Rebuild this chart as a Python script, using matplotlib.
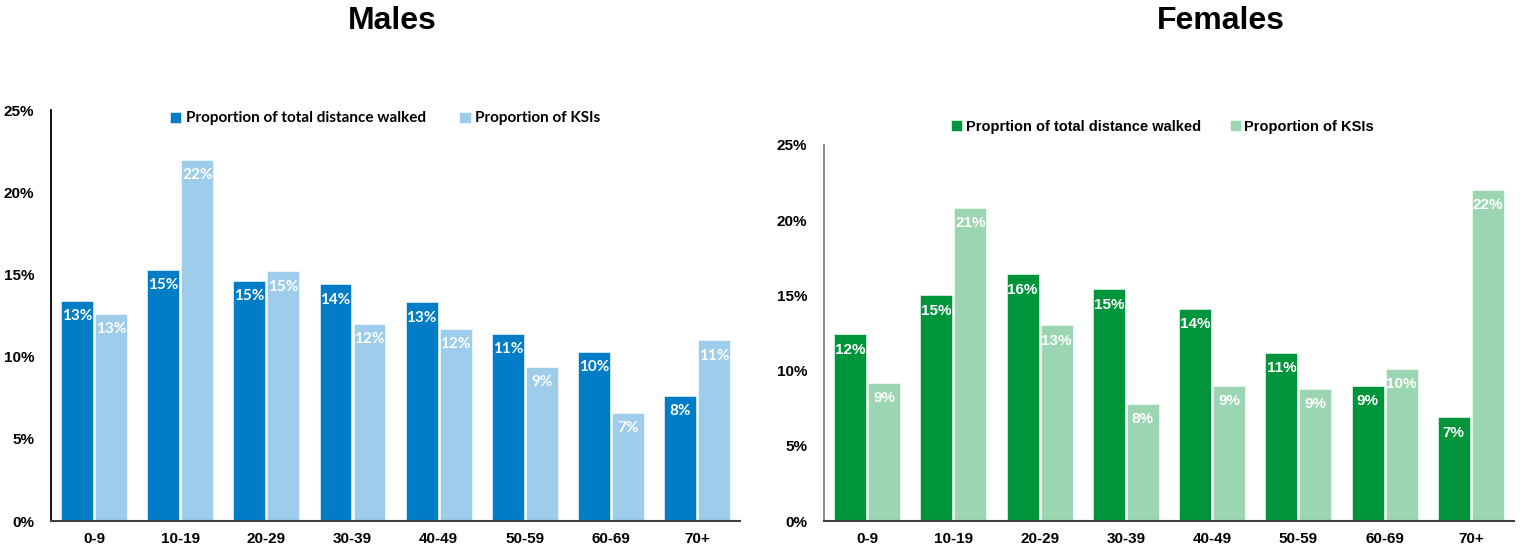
import matplotlib
matplotlib.use("Agg")
import matplotlib.pyplot as plt
from matplotlib.ticker import FuncFormatter

age_groups = ["0-9", "10-19", "20-29", "30-39", "40-49", "50-59", "60-69", "70+"]

# shares in percent, per age group
male_distance = [13.4, 15.3, 14.6, 14.4, 13.3, 11.4, 10.3, 7.6]
male_ksi = [12.6, 22.0, 15.2, 12.0, 11.7, 9.4, 6.6, 11.0]
female_distance = [12.4, 15.0, 16.4, 15.4, 14.1, 11.2, 9.0, 6.9]
female_ksi = [9.2, 20.8, 13.0, 7.8, 9.0, 8.8, 10.1, 22.0]

MALE_DARK, MALE_LIGHT = "#007DC6", "#9DCDEA"
FEMALE_DARK, FEMALE_LIGHT = "#00953A", "#9BD5B1"

plt.rcParams["font.family"] = ["Liberation Sans", "DejaVu Sans"]

fig = plt.figure(figsize=(15.28, 5.47), dpi=100)
ax_m = fig.add_axes([0.0334, 0.0475, 0.451, 0.751])
ax_f = fig.add_axes([0.5393, 0.0475, 0.4515, 0.6875])

width = 0.37
gap = 0.025


def pct(v):
    return f"{int(v + 0.5)}%"


def draw_panel(ax, first, second, names, colors, label_font, spine_color):
    xs = range(len(age_groups))
    left = [x - width / 2 - gap / 2 for x in xs]
    right = [x + width / 2 + gap / 2 for x in xs]
    b1 = ax.bar(left, first, width, color=colors[0], label=names[0],
                edgecolor="white", linewidth=0.4)
    b2 = ax.bar(right, second, width, color=colors[1], label=names[1],
                edgecolor="white", linewidth=0.4)

    for bars, vals in ((b1, first), (b2, second)):
        for bar, v in zip(bars, vals):
            ax.annotate(pct(v),
                        xy=(bar.get_x() + bar.get_width() / 2, v),
                        xytext=(0, -6), textcoords="offset points",
                        ha="center", va="top", color="white",
                        fontsize=11, fontweight="bold", family=label_font)

    ax.set_xlim(-0.5, len(age_groups) - 0.5)
    ax.set_ylim(0, 25)
    ax.set_yticks([0, 5, 10, 15, 20, 25])
    ax.yaxis.set_major_formatter(FuncFormatter(lambda v, _: f"{v:.0f}%"))
    ax.set_xticks(list(xs))
    ax.set_xticklabels(age_groups)
    ax.tick_params(axis="both", length=0, labelsize=11)
    ax.tick_params(axis="y", pad=12)
    ax.tick_params(axis="x", pad=8)
    for lbl in ax.get_xticklabels() + ax.get_yticklabels():
        lbl.set_fontweight("bold")

    for side in ("top", "right"):
        ax.spines[side].set_visible(False)
    ax.spines["left"].set_color(spine_color)
    ax.spines["left"].set_linewidth(1.3)
    ax.spines["bottom"].set_color("#404040")
    ax.spines["bottom"].set_linewidth(1.5)


draw_panel(ax_m, male_distance, male_ksi,
           ["Proportion of total distance walked", "Proportion of KSIs"],
           (MALE_DARK, MALE_LIGHT), ["Lato", "DejaVu Sans"], "black")
draw_panel(ax_f, female_distance, female_ksi,
           ["Proprtion of total distance walked", "Proportion of KSIs"],
           (FEMALE_DARK, FEMALE_LIGHT), ["Liberation Sans", "DejaVu Sans"], "#808080")

leg_m = ax_m.legend(loc="center left", bbox_to_anchor=(0.152, 0.98), ncol=2,
                    frameon=False, handlelength=0.75, handleheight=0.75,
                    handletextpad=0.3, columnspacing=2.2,
                    prop={"family": ["Lato", "DejaVu Sans"], "weight": "bold", "size": 11})
leg_f = ax_f.legend(loc="center left", bbox_to_anchor=(0.165, 1.048), ncol=2,
                    frameon=False, handlelength=0.75, handleheight=0.75,
                    handletextpad=0.25, columnspacing=2.0,
                    prop={"weight": "bold", "size": 10.5})

fig.text(0.257, 0.962, "Males", ha="center", va="center", fontsize=23, fontweight="bold")
fig.text(0.799, 0.962, "Females", ha="center", va="center", fontsize=23, fontweight="bold")

fig.savefig("out.png", dpi=100, facecolor="white")
